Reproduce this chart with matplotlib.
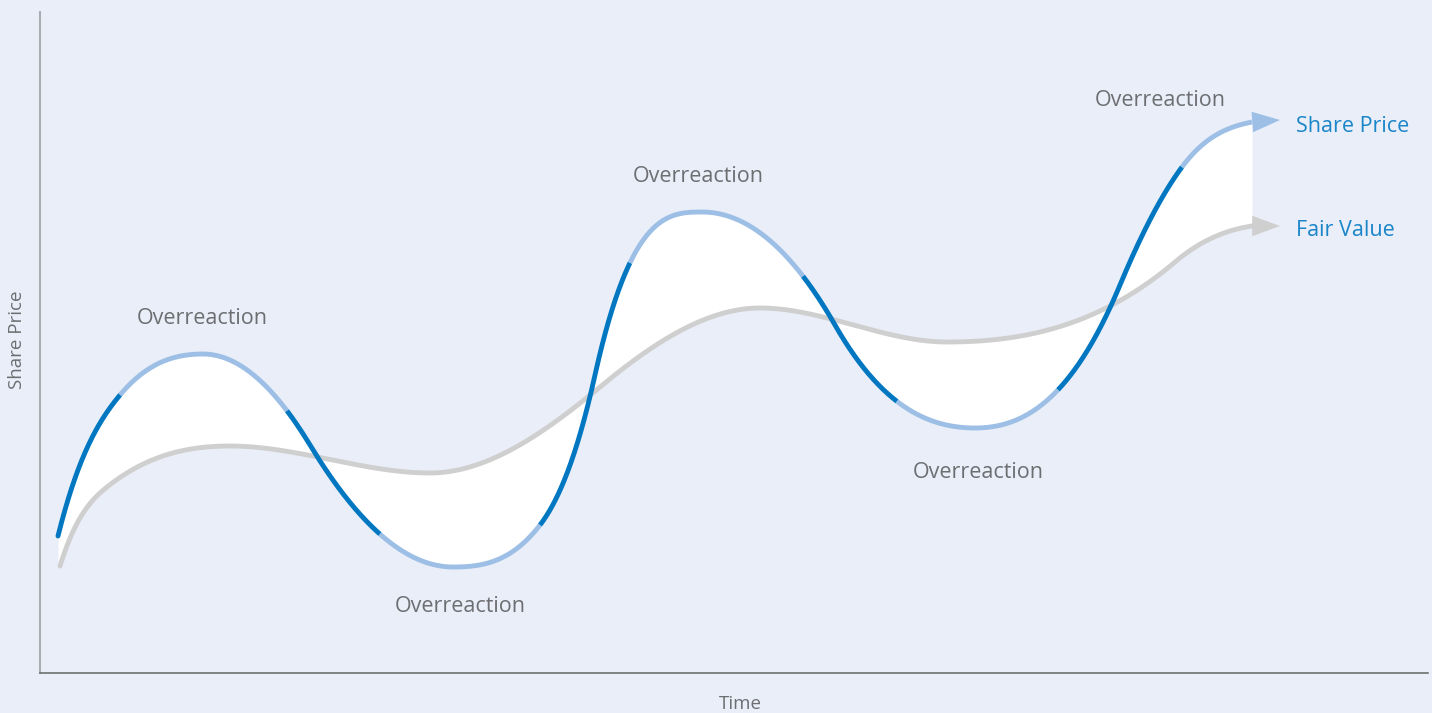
import numpy as np
import matplotlib
matplotlib.use("Agg")
import matplotlib.pyplot as plt

# Share price path: key points (time, price, slope there)
share_t = [18, 80, 163, 270, 413, 500, 555, 662, 795, 935, 1080, 1142, 1212]
share_p = [137, 278, 319, 228, 106, 148, 298, 461, 348, 245, 388, 506, 551]
share_m = [4.0, 1.2, 0, -1.65, 0, 1.3, 4.5, 0, -1.75, 0, 2.4, 1.35, 0.2]

# Fair value path
fair_t = [20, 67, 190, 390, 560, 720, 907, 1135, 1212]
fair_p = [107, 186, 227, 200, 286, 365, 331, 411, 447]
fair_m = [3.2, 0.8, 0, 0, 0.83, 0, 0, 0.85, 0.15]

# where the share price line switches between "normal" (dark) and "overreaction" (light)
breaks = [18, 80, 247, 340, 500, 590, 763, 857, 1018, 1142, 1212]
arrow_tip_t = 1240
share_tip_p = 553
fair_tip_p = 447

labels = ["Overreaction"] * 5
label_t = [162, 420, 658, 938, 1120]
label_p = [355, 67, 496, 200, 572]

BG = "#E9EEF8"
DARK = "#0077C0"
LIGHT = "#9DBFE6"
GREY = "#CFCFCF"
TXT = "#6D6E71"
BLUE_TXT = "#1A85C8"


def hermite(xs, ys, ms, xnew):
    # cubic hermite curve through the key points with the given slopes
    xs = np.asarray(xs, float)
    ys = np.asarray(ys, float)
    ms = np.asarray(ms, float)
    k = np.clip(np.searchsorted(xs, xnew) - 1, 0, len(xs) - 2)
    h = xs[k + 1] - xs[k]
    s = (xnew - xs[k]) / h
    h00 = 2 * s**3 - 3 * s**2 + 1
    h10 = s**3 - 2 * s**2 + s
    h01 = -2 * s**3 + 3 * s**2
    h11 = s**3 - s**2
    return h00 * ys[k] + h10 * h * ms[k] + h01 * ys[k + 1] + h11 * h * ms[k + 1]


plt.rcParams['font.family'] = ['Open Sans', 'DejaVu Sans']

fig = plt.figure(figsize=(14.32, 7.13), dpi=100, facecolor=BG)
ax = fig.add_axes([40 / 1432, 40 / 713, 1388 / 1432, 661 / 713])
ax.set_facecolor(BG)
ax.set_xlim(0, 1388)
ax.set_ylim(0, 661)

# white band between price and fair value
tt = np.linspace(share_t[0], share_t[-1], 1500)
sp = hermite(share_t, share_p, share_m, tt)
fv = hermite(fair_t, fair_p, fair_m, np.clip(tt, fair_t[0], fair_t[-1]))
ax.fill_between(tt, sp, fv, color="white", lw=0, zorder=1)

# fair value line
tf = np.linspace(fair_t[0], fair_t[-1], 1000)
ax.plot(tf, hermite(fair_t, fair_p, fair_m, tf), color=GREY, lw=3.5,
        solid_capstyle="round", zorder=2)

# share price line, alternating colours
for i in range(len(breaks) - 1):
    seg = np.linspace(breaks[i], breaks[i + 1], 300)
    col = DARK if i % 2 == 0 else LIGHT
    cap = "round" if i == 0 else "butt"
    ax.plot(seg, hermite(share_t, share_p, share_m, seg), color=col, lw=3.5,
            solid_capstyle=cap, zorder=3)

# arrow heads
for p_end, p_tip, col in [(share_p[-1], share_tip_p, LIGHT), (fair_p[-1], fair_tip_p, GREY)]:
    ax.annotate("", xy=(arrow_tip_t, p_tip), xytext=(share_t[-1], p_end),
                arrowprops=dict(arrowstyle="-|>,head_length=1.0,head_width=0.37",
                                color=col, lw=0, mutation_scale=20,
                                shrinkA=0, shrinkB=0), zorder=3)

for lab, x, y in zip(labels, label_t, label_p):
    ax.text(x, y, lab, color=TXT, fontsize=15.5, ha="center", va="center")

ax.text(1256, share_tip_p - 7, "Share Price", color=BLUE_TXT, fontsize=15.5, va="center")
ax.text(1256, fair_tip_p - 4, "Fair Value", color=BLUE_TXT, fontsize=15.5, va="center")

for s in ["top", "right"]:
    ax.spines[s].set_visible(False)
ax.spines["left"].set_color("#A9AEB3")
ax.spines["left"].set_linewidth(1.5)
ax.spines["bottom"].set_color("#6B706E")
ax.spines["bottom"].set_linewidth(1.2)
ax.set_xticks([])
ax.set_yticks([])

fig.text(17 / 1432, 1 - 340 / 713, "Share Price", color=TXT, fontsize=13.5,
         rotation=90, ha="center", va="center")
fig.text(740 / 1432, 1 - 704 / 713, "Time", color=TXT, fontsize=13.5,
         ha="center", va="center")

fig.savefig("out.png", dpi=100, facecolor=BG)
